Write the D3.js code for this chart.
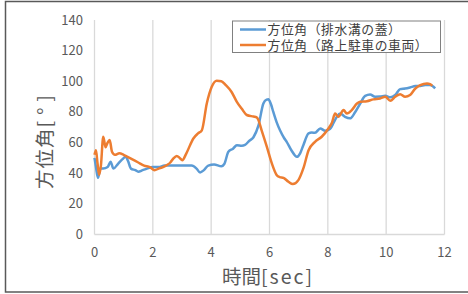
<!DOCTYPE html>
<html>
<head>
<meta charset="utf-8">
<script src="https://cdn.jsdelivr.net/npm/d3@7"></script>
<style>
  body { margin: 0; background: #fff; }
  text { font-family: "Noto Sans CJK JP", "Noto Sans", sans-serif; }
  text.legend-label { font-family: "Liberation Sans", "Noto Sans CJK JP", sans-serif; }
</style>
</head>
<body>
<svg id="chart"></svg>
<script>
// series (time in sec, azimuth in degrees)
const timeBlue = [0, 0.05, 0.12, 0.2, 0.3, 0.45, 0.55, 0.65, 0.8, 0.95, 1.07, 1.15, 1.25, 1.4, 1.5, 1.65, 1.8, 2.0, 2.2, 2.4, 2.6, 2.9, 3.1, 3.33, 3.5, 3.62, 3.75, 3.9, 4.1, 4.35, 4.45, 4.59, 4.75, 4.88, 5.05, 5.16, 5.3, 5.45, 5.62, 5.79, 5.9, 5.96, 6.05, 6.13, 6.25, 6.36, 6.5, 6.59, 6.75, 6.94, 7.05, 7.16, 7.34, 7.45, 7.56, 7.74, 7.91, 8.08, 8.2, 8.31, 8.42, 8.59, 8.76, 8.94, 9.11, 9.28, 9.45, 9.62, 9.79, 9.97, 10.14, 10.31, 10.48, 10.65, 10.82, 11.0, 11.17, 11.34, 11.51, 11.68];
const azBlue = [50, 44, 37, 43, 43, 44, 47.5, 43, 46, 49, 50.7, 48, 43, 42, 41, 42, 43, 44, 44, 45, 45, 45, 45, 45, 43, 40.5, 42, 45, 45.7, 44.5, 46, 54, 56, 58.3, 58, 58.5, 61, 63.5, 71, 85.5, 88, 88.2, 85, 80, 73, 68, 63, 60.5, 55, 50.7, 53, 58.3, 66, 66.5, 66.4, 69.2, 67.7, 69, 73, 76.8, 79, 76.8, 75.8, 80, 85.5, 90.5, 91.4, 89.9, 90, 90.5, 89.5, 91, 94.9, 95.3, 96, 96.9, 97, 97.5, 97.5, 95.3];

const timeOrange = [0, 0.05, 0.1, 0.16, 0.22, 0.3, 0.38, 0.45, 0.52, 0.6, 0.7, 0.85, 1.0, 1.1, 1.3, 1.5, 1.7, 1.9, 2.06, 2.2, 2.35, 2.5, 2.6, 2.7, 2.82, 2.92, 3.01, 3.15, 3.39, 3.55, 3.68, 3.85, 4.02, 4.19, 4.35, 4.5, 4.7, 4.88, 5.05, 5.22, 5.45, 5.56, 5.62, 5.73, 5.91, 6.08, 6.25, 6.35, 6.48, 6.65, 6.8, 6.99, 7.16, 7.34, 7.56, 7.79, 8.02, 8.14, 8.25, 8.36, 8.54, 8.65, 8.82, 9.0, 9.11, 9.34, 9.56, 9.79, 9.97, 10.14, 10.31, 10.48, 10.65, 10.82, 11.0, 11.17, 11.4, 11.51, 11.58];
const azOrange = [52, 55, 47, 39, 45, 63.8, 57, 60, 61.6, 54, 52, 53, 52, 51, 49, 47, 45, 44, 42, 43, 44, 45.5, 47, 49.5, 51.3, 50, 48.5, 53, 62.7, 66, 68, 85.5, 96.4, 100.3, 100, 97.5, 93, 86.6, 82, 78, 77, 76.5, 74.7, 68, 57.2, 46.4, 38.7, 37.5, 37, 34.4, 32.9, 35.5, 43.1, 55, 60.5, 63.8, 69.2, 73, 79, 76.8, 81.2, 79, 81.2, 85.5, 86.6, 87, 88.2, 88.8, 89.9, 87.3, 89.9, 91.6, 89.9, 91, 95.3, 97.5, 98.6, 98.2, 97];

const seriesNames = ['方位角（排水溝の蓋）', '方位角（路上駐車の車両）'];
const seriesColors = ['#5B9BD5', '#ED7D31'];
const xTicks = [0, 2, 4, 6, 8, 10, 12];
const yTicks = [0, 20, 40, 60, 80, 100, 120, 140];

const size = {w: 468, h: 294};
const plot = {l: 94.5, r: 444.5, t: 20, b: 234.5};

const svg = d3.select('#chart')
    .attr('width', size.w)
    .attr('height', size.h);

// outer chart frame (right edge falls outside the picture)
svg.append('rect')
    .attr('x', 5.5).attr('y', 1.5)
    .attr('width', 470).attr('height', 290.5)
    .attr('fill', '#fff')
    .attr('stroke', '#595959')
    .attr('stroke-width', 1.5);

const x = d3.scaleLinear().domain([0, 12]).range([plot.l, plot.r]);
const y = d3.scaleLinear().domain([0, 140]).range([plot.b, plot.t]);

// vertical gridlines only
svg.append('g').selectAll('line')
    .data(xTicks)
    .join('line')
    .attr('x1', d => x(d)).attr('x2', d => x(d))
    .attr('y1', plot.t).attr('y2', plot.b)
    .attr('stroke', '#d9d9d9')
    .attr('stroke-width', 1.3);

// bottom axis line
svg.append('line')
    .attr('x1', plot.l).attr('x2', plot.r)
    .attr('y1', plot.b).attr('y2', plot.b)
    .attr('stroke', '#d9d9d9')
    .attr('stroke-width', 1.3);

// tick labels
svg.append('g').selectAll('text')
    .data(xTicks)
    .join('text')
    .attr('x', d => x(d))
    .attr('y', 257)
    .attr('text-anchor', 'middle')
    .attr('fill', '#595959')
    .attr('font-size', 13)
    .text(d => d);

svg.append('g').selectAll('text')
    .data(yTicks)
    .join('text')
    .attr('x', 83)
    .attr('y', d => y(d) + 4.5)
    .attr('text-anchor', 'end')
    .attr('fill', '#595959')
    .attr('font-size', 13)
    .text(d => d);

// axis titles -- brackets spaced out a bit like the original
const xTitle = svg.append('text')
    .attr('x', 268).attr('y', 284)
    .attr('text-anchor', 'middle')
    .attr('fill', '#595959')
    .attr('font-size', 19.5);
xTitle.append('tspan').text('時間');
xTitle.append('tspan').attr('letter-spacing', 2).text('[sec]');

const yTitle = svg.append('text')
    .attr('transform', 'translate(52,139) rotate(-90)')
    .attr('text-anchor', 'middle')
    .attr('fill', '#595959')
    .attr('font-size', 19.5);
yTitle.append('tspan').attr('letter-spacing', 1).text('方位角');
yTitle.append('tspan').attr('letter-spacing', 6).text('[°]');

// lines
const line = d3.line()
    .x(d => x(d[0]))
    .y(d => y(d[1]))
    .curve(d3.curveMonotoneX);

const seriesData = [
    d3.zip(timeBlue, azBlue),
    d3.zip(timeOrange, azOrange)
];

// draw blue first, orange on top
svg.append('g').selectAll('path')
    .data(seriesData)
    .join('path')
    .attr('d', d => line(d))
    .attr('fill', 'none')
    .attr('stroke', (d, i) => seriesColors[i])
    .attr('stroke-width', 2.5)
    .attr('stroke-linejoin', 'round');

// legend
const legendG = svg.append('g').attr('transform', 'translate(232.5,21)');
legendG.append('rect')
    .attr('width', 208).attr('height', 31.5)
    .attr('fill', '#fff')
    .attr('stroke', '#808080')
    .attr('stroke-width', 1);

const legendItems = legendG.selectAll('g.item')
    .data(seriesNames)
    .join('g')
    .classed('item', true)
    .attr('transform', (d, i) => `translate(0,${8.5 + i * 15.5})`);

legendItems.append('line')
    .attr('x1', 7.5).attr('x2', 33.5)
    .attr('stroke', (d, i) => seriesColors[i])
    .attr('stroke-width', 2.5);

legendItems.append('text')
    .classed('legend-label', true)
    .attr('x', 35)
    .attr('y', 4.5)
    .attr('fill', '#404040')
    .attr('font-size', 12.8)
    .attr('letter-spacing', 0.6)
    .text(d => d);
</script>
</body>
</html>
